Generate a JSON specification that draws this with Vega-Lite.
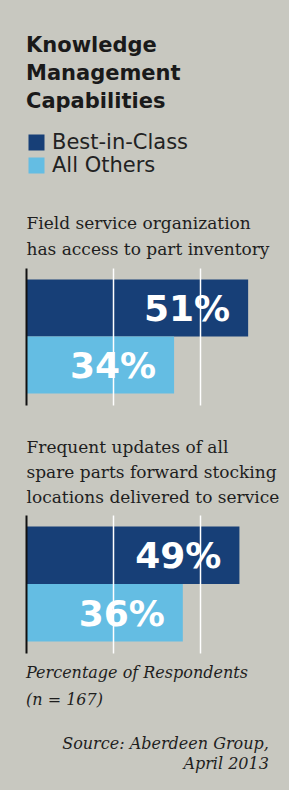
{
  "$schema": "https://vega.github.io/schema/vega-lite/v6.json",
  "background": "#c8c8c0",
  "padding": {"left": 26, "top": 35, "right": 10, "bottom": 18},
  "config": {"view": {"stroke": null}},
  "title": {
    "text": ["Source: Aberdeen Group,", "April 2013"],
    "orient": "bottom",
    "anchor": "end",
    "align": "right",
    "font": "DejaVu Serif",
    "fontStyle": "italic",
    "fontWeight": "normal",
    "fontSize": 16,
    "lineHeight": 20,
    "color": "#1e1e1e",
    "offset": 28,
    "dx": -10
  },
  "data": {
    "values": [
      {"panel": 1, "group": "Best-in-Class", "value": 0.51},
      {"panel": 1, "group": "All Others", "value": 0.34},
      {"panel": 2, "group": "Best-in-Class", "value": 0.49},
      {"panel": 2, "group": "All Others", "value": 0.36}
    ]
  },
  "resolve": {"legend": {"color": "independent"}},
  "spacing": 33,
  "vconcat": [
    {
      "width": 240,
      "height": 137,
      "title": {
        "text": ["Knowledge", "Management", "Capabilities"],
        "anchor": "start",
        "align": "left",
        "font": "DejaVu Sans",
        "fontWeight": "bold",
        "fontSize": 21,
        "lineHeight": 28,
        "color": "#1a1a1a",
        "offset": 20
      },
      "transform": [{"filter": "datum.panel == 1"}],
      "encoding": {
        "y": {
          "field": "group", "type": "nominal", "sort": ["Best-in-Class", "All Others"],
          "scale": {"paddingInner": 0, "paddingOuter": 0.2},
          "axis": {"title": null, "labels": false, "ticks": false, "domain": true, "domainColor": "#111111", "domainWidth": 2, "zindex": 1}
        },
        "x": {
          "field": "value", "type": "quantitative",
          "scale": {"domain": [0, 0.551], "nice": false},
          "axis": {
            "orient": "top",
            "title": ["Field service organization", "has access to part inventory"],
            "titleAnchor": "start", "titleAlign": "left",
            "titleFont": "DejaVu Serif", "titleFontSize": 17, "titleFontWeight": "normal",
            "titleLineHeight": 26, "titleColor": "#1e1e1e", "titlePadding": 10,
            "labels": false, "ticks": false, "domain": false,
            "grid": true, "gridColor": "#ffffff", "gridWidth": 1.5, "gridOpacity": 1,
            "values": [0.2, 0.4], "zindex": 1
          }
        }
      },
      "layer": [
        {
          "mark": {"type": "bar"},
          "encoding": {
            "color": {
              "field": "group", "type": "nominal",
              "scale": {"domain": ["Best-in-Class", "All Others"], "range": ["#173f77", "#64bde3"]},
              "legend": {
                "orient": "top", "direction": "vertical", "title": null,
                "symbolType": "square", "symbolSize": 256, "symbolStrokeWidth": 0, "symbolOpacity": 1,
                "labelFont": "DejaVu Sans", "labelFontSize": 21, "labelColor": "#222222",
                "labelOffset": 5, "rowPadding": 1, "offset": 38, "padding": 0
              }
            }
          }
        },
        {
          "mark": {"type": "text", "align": "right", "baseline": "middle", "dx": -18, "dy": 2, "font": "DejaVu Sans", "fontWeight": "bold", "fontSize": 36, "color": "#ffffff"},
          "encoding": {"text": {"field": "value", "type": "quantitative", "format": ".0%"}}
        }
      ]
    },
    {
      "width": 240,
      "height": 138,
      "title": {
        "text": ["Percentage of Respondents", "(n = 167)"],
        "orient": "bottom",
        "anchor": "start",
        "align": "left",
        "font": "DejaVu Serif",
        "fontStyle": "italic",
        "fontWeight": "normal",
        "fontSize": 16,
        "lineHeight": 27,
        "color": "#1e1e1e",
        "offset": 12
      },
      "transform": [{"filter": "datum.panel == 2"}],
      "encoding": {
        "y": {
          "field": "group", "type": "nominal", "sort": ["Best-in-Class", "All Others"],
          "scale": {"paddingInner": 0, "paddingOuter": 0.2},
          "axis": {"title": null, "labels": false, "ticks": false, "domain": true, "domainColor": "#111111", "domainWidth": 2, "zindex": 1}
        },
        "x": {
          "field": "value", "type": "quantitative",
          "scale": {"domain": [0, 0.551], "nice": false},
          "axis": {
            "orient": "top",
            "title": ["Frequent updates of all", "spare parts forward stocking", "locations delivered to service"],
            "titleAnchor": "start", "titleAlign": "left",
            "titleFont": "DejaVu Serif", "titleFontSize": 17, "titleFontWeight": "normal",
            "titleLineHeight": 25, "titleColor": "#1e1e1e", "titlePadding": 9,
            "labels": false, "ticks": false, "domain": false,
            "grid": true, "gridColor": "#ffffff", "gridWidth": 1.5, "gridOpacity": 1,
            "values": [0.2, 0.4], "zindex": 1
          }
        }
      },
      "layer": [
        {
          "mark": {"type": "bar"},
          "encoding": {
            "color": {
              "field": "group", "type": "nominal",
              "scale": {"domain": ["Best-in-Class", "All Others"], "range": ["#173f77", "#64bde3"]},
              "legend": null
            }
          }
        },
        {
          "mark": {"type": "text", "align": "right", "baseline": "middle", "dx": -18, "dy": 2, "font": "DejaVu Sans", "fontWeight": "bold", "fontSize": 36, "color": "#ffffff"},
          "encoding": {"text": {"field": "value", "type": "quantitative", "format": ".0%"}}
        }
      ]
    }
  ]
}
